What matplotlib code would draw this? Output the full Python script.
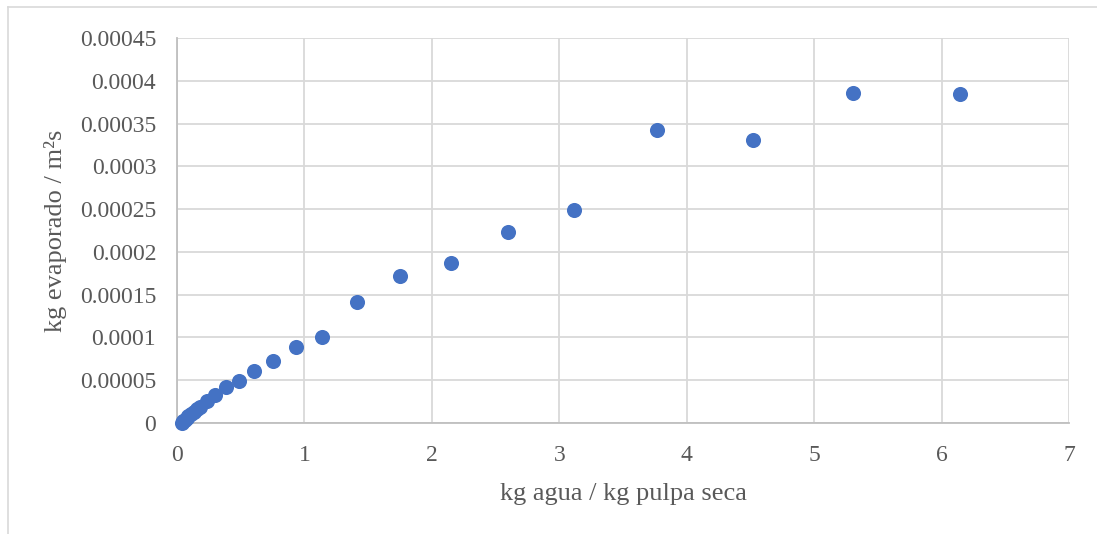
import matplotlib
matplotlib.use("Agg")
import matplotlib.pyplot as plt
from matplotlib.lines import Line2D
from matplotlib.ticker import FuncFormatter, MultipleLocator

# Moisture content (kg water / kg dry pulp) and drying rate (kg evaporated / m²s)
humedad = [0.04, 0.05, 0.06, 0.075, 0.09, 0.11, 0.13, 0.155, 0.18, 0.235,
           0.30, 0.385, 0.487, 0.604, 0.754, 0.934, 1.138, 1.413, 1.75,
           2.151, 2.598, 3.116, 3.768, 4.52, 5.306, 6.146]
velocidad = [0.0, 0.000002, 0.000004, 0.000006, 0.000008, 0.000011, 0.000013,
             0.000016, 0.000019, 0.000026, 0.000033, 0.000042, 0.000049,
             0.000061, 0.000073, 0.000089, 0.0001, 0.000141, 0.000172,
             0.000187, 0.000223, 0.000249, 0.000342, 0.000331, 0.000386,
             0.000385]

x_label = "kg agua / kg pulpa seca"
y_label = "kg evaporado / m²s"

plt.rcParams["font.family"] = ["Liberation Serif", "DejaVu Serif"]

fig = plt.figure(figsize=(10.97, 5.34), dpi=100)
ax = fig.add_axes([177 / 1097, 1 - 423 / 534, (1069 - 177) / 1097, (423 - 38) / 534])

ax.scatter(humedad, velocidad, s=118, color="#4472C4", zorder=3, clip_on=False,
           linewidths=0)

ax.set_xlim(0, 7)
ax.set_ylim(0, 0.00045)
ax.xaxis.set_major_locator(MultipleLocator(1))
ax.yaxis.set_major_locator(MultipleLocator(0.00005))


def general(v, pos):
    s = f"{v:.5f}".rstrip("0").rstrip(".")
    return s if s else "0"


ax.yaxis.set_major_formatter(FuncFormatter(general))
ax.xaxis.set_major_formatter(FuncFormatter(lambda v, p: f"{v:.0f}"))

ax.grid(True, color="#d9d9d9", linewidth=1.3)
ax.set_axisbelow(True)
for side in ("top", "right"):
    ax.spines[side].set_visible(False)
for side in ("left", "bottom"):
    ax.spines[side].set_color("#bfbfbf")
    ax.spines[side].set_linewidth(1.3)

ax.tick_params(length=0, labelsize=17, labelcolor="#595959")
ax.tick_params(axis="y", pad=15)
ax.tick_params(axis="x", pad=16)

ax.set_xlabel(x_label, fontsize=19, color="#595959", labelpad=12)
ax.set_ylabel(y_label, fontsize=19, color="#595959", labelpad=9)

# Chart frame (top and left edges)
fig.add_artist(Line2D([8 / 1097, 1.0], [1 - 7 / 534, 1 - 7 / 534],
                      transform=fig.transFigure, color="#d9d9d9", linewidth=1.2))
fig.add_artist(Line2D([8 / 1097, 8 / 1097], [0.0, 1 - 7 / 534],
                      transform=fig.transFigure, color="#d9d9d9", linewidth=1.2))

fig.savefig("out.png", dpi=100, facecolor="white")
